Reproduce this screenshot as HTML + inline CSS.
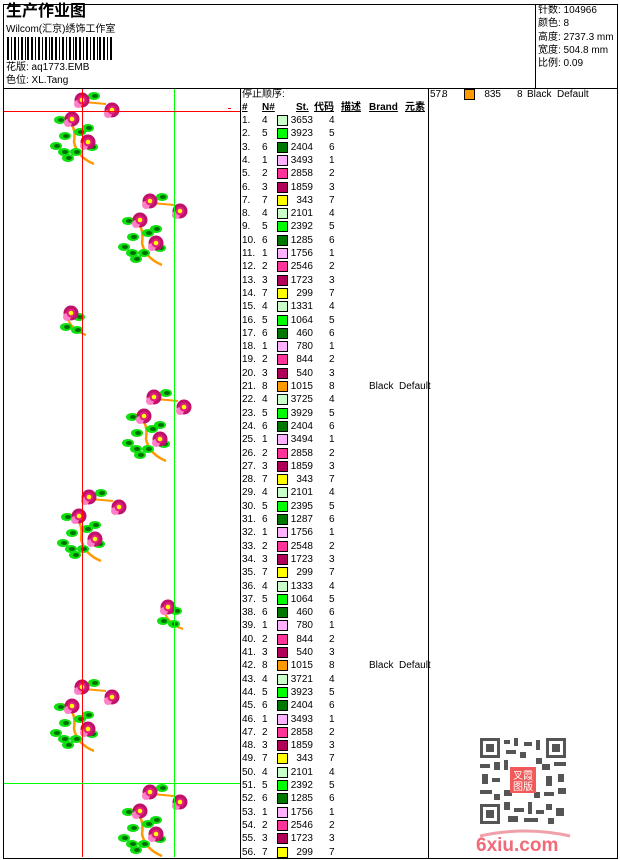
<!DOCTYPE html>
<html><head><meta charset="utf-8"><style>
body{margin:0;width:620px;height:860px;background:#fff;position:relative;overflow:hidden;font-family:"Liberation Sans","Noto Sans CJK SC",sans-serif;color:#000}
.a{position:absolute;white-space:nowrap}
.h{position:absolute;top:101px;font-size:10px;line-height:13px;font-weight:bold;text-decoration:underline;white-space:nowrap}
.r{position:absolute;left:242px;height:13px;font-size:10px;line-height:13px;white-space:nowrap}
.r span{position:absolute}
.r .n{left:0}.r .c{left:20px}.r .s{left:35px;top:1px;width:9px;height:9px;border:1px solid #000}.r .t{left:47px;width:24px;text-align:right}.r .k{left:87px}.r .b{left:127px}
.c1{background:#ffb0ff}.c2{background:#ff3399}.c3{background:#b0005a}.c4{background:#c8ffc8}.c5{background:#00ff00}.c6{background:#007800}.c7{background:#ffff00}.c8{background:#ff9900}
</style></head><body>
<div class="a" style="left:3px;top:4px;width:613px;height:853px;border:1px solid #000"></div>
<div class="a" style="left:3px;top:88px;width:614px;height:1px;background:#000"></div>
<div class="a" style="left:535px;top:4px;width:1px;height:84px;background:#000"></div>
<div class="a" style="left:240px;top:88px;width:1px;height:770px;background:#000"></div>
<div class="a" style="left:428px;top:88px;width:1px;height:770px;background:#000"></div>
<div class="a" style="left:6px;top:2px;font-size:16px;line-height:20px;font-weight:bold">生产作业图</div>
<div class="a" style="left:6px;top:23px;font-size:10px;line-height:13px">Wilcom(汇京)绣饰工作室</div>
<svg class="a" style="left:7px;top:37px" width="105" height="23">
<g fill="#000">
<rect x="0" width="2" height="23"/><rect x="4" width="1" height="23"/><rect x="7" width="2" height="23"/><rect x="11" width="1" height="23"/><rect x="14" width="2" height="23"/><rect x="18" width="1" height="23"/><rect x="20" width="2" height="23"/><rect x="24" width="2" height="23"/><rect x="28" width="1" height="23"/><rect x="31" width="2" height="23"/><rect x="35" width="1" height="23"/><rect x="38" width="2" height="23"/><rect x="42" width="1" height="23"/><rect x="44" width="2" height="23"/><rect x="48" width="2" height="23"/><rect x="52" width="1" height="23"/><rect x="55" width="2" height="23"/><rect x="59" width="1" height="23"/><rect x="62" width="2" height="23"/><rect x="66" width="1" height="23"/><rect x="68" width="2" height="23"/><rect x="72" width="2" height="23"/><rect x="76" width="1" height="23"/><rect x="79" width="2" height="23"/><rect x="83" width="1" height="23"/><rect x="86" width="2" height="23"/><rect x="90" width="1" height="23"/><rect x="92" width="2" height="23"/><rect x="96" width="2" height="23"/><rect x="100" width="1" height="23"/><rect x="103" width="2" height="23"/>
</g></svg>
<div class="a" style="left:6px;top:61px;font-size:10px;line-height:13px">花版: aq1773.EMB</div>
<div class="a" style="left:6px;top:74px;font-size:10px;line-height:13px">色位: XL.Tang</div>
<div class="a" style="left:538px;top:4px;font-size:10px;line-height:13.3px">针数: 104966<br>颜色: 8<br>高度: 2737.3 mm<br>宽度: 504.8 mm<br>比例: 0.09</div>

<svg class="a" style="left:4px;top:89px" width="236" height="768">
<defs>
<g id="fl"><circle r="7.5" fill="#c0106a"/><circle cx="-4" cy="4" r="4" fill="#ff80c8"/><circle r="4.5" fill="#e0207e"/><circle r="2.3" fill="#ffff00"/></g>
<g id="lf"><ellipse rx="6" ry="4" fill="#10e010"/><ellipse rx="3" ry="2" cx="1" fill="#007000"/></g>
<g id="spray">
<path d="M-20 5 Q-5 10 -8 30 Q-5 45 12 52" stroke="#ff9900" stroke-width="2.5" fill="none"/>
<path d="M2 -10 L24 -8" stroke="#ff9900" stroke-width="2"/>
<use href="#lf" x="-22" y="8"/><use href="#lf" x="-26" y="34"/><use href="#lf" x="-14" y="46"/><use href="#lf" x="6" y="16"/><use href="#lf" x="-17" y="24"/><use href="#lf" x="12" y="-16"/><use href="#lf" x="-6" y="40"/><use href="#lf" x="-18" y="40"/><use href="#lf" x="10" y="35"/><use href="#lf" x="-2" y="20"/>
<use href="#fl" x="0" y="-12"/><use href="#fl" x="-10" y="7"/><use href="#fl" x="30" y="-2"/><use href="#fl" x="6" y="30"/>
</g>
<g id="small"><path d="M-5 0 Q0 15 15 20" stroke="#ff9900" stroke-width="2" fill="none"/><use href="#lf" x="6" y="15"/><use href="#lf" x="-5" y="12"/><use href="#lf" x="8" y="2"/><use href="#fl" x="0" y="-2"/></g>
</defs>
<use href="#spray" x="78" y="23"/>
<use href="#spray" x="146" y="124"/>
<use href="#small" x="67" y="226"/>
<use href="#spray" x="150" y="320"/>
<use href="#spray" x="85" y="420"/>
<use href="#small" x="164" y="520"/>
<use href="#spray" x="78" y="610"/>
<use href="#spray" x="146" y="715"/>
<g shape-rendering="crispEdges">
<line x1="78.5" y1="0" x2="78.5" y2="768" stroke="#f00" stroke-width="1"/>
<line x1="170.5" y1="0" x2="170.5" y2="768" stroke="#0f0" stroke-width="1"/>
<line x1="0" y1="22.5" x2="236" y2="22.5" stroke="#f00" stroke-width="1"/>
<line x1="0" y1="694.5" x2="236" y2="694.5" stroke="#0f0" stroke-width="1"/>
<line x1="224" y1="19.5" x2="227" y2="19.5" stroke="#f00"/>
</g>
</svg>

<div class="a" style="left:242px;top:88px;font-size:10px;line-height:13px">停止顺序:</div>
<div class="h" style="left:242px">#</div>
<div class="h" style="left:262px">N#</div>
<div class="h" style="left:296px">St.</div>
<div class="h" style="left:314px">代码</div>
<div class="h" style="left:341px">描述</div>
<div class="h" style="left:369px">Brand</div>
<div class="h" style="left:405px">元素</div>

<div class="r" style="left:430px;top:88px"><span class="n">57.</span><span class="c" style="left:12px">8</span><span class="s c8" style="left:34px"></span><span class="t" style="left:47px">835</span><span class="k">8</span><span style="left:97px">Black&nbsp; Default</span></div>

<div class="r" style="top:114px"><span class="n">1.</span><span class="c">4</span><span class="s c4"></span><span class="t">3653</span><span class="k">4</span></div>
<div class="r" style="top:127.3px"><span class="n">2.</span><span class="c">5</span><span class="s c5"></span><span class="t">3923</span><span class="k">5</span></div>
<div class="r" style="top:140.6px"><span class="n">3.</span><span class="c">6</span><span class="s c6"></span><span class="t">2404</span><span class="k">6</span></div>
<div class="r" style="top:153.9px"><span class="n">4.</span><span class="c">1</span><span class="s c1"></span><span class="t">3493</span><span class="k">1</span></div>
<div class="r" style="top:167.2px"><span class="n">5.</span><span class="c">2</span><span class="s c2"></span><span class="t">2858</span><span class="k">2</span></div>
<div class="r" style="top:180.5px"><span class="n">6.</span><span class="c">3</span><span class="s c3"></span><span class="t">1859</span><span class="k">3</span></div>
<div class="r" style="top:193.8px"><span class="n">7.</span><span class="c">7</span><span class="s c7"></span><span class="t">343</span><span class="k">7</span></div>
<div class="r" style="top:207.1px"><span class="n">8.</span><span class="c">4</span><span class="s c4"></span><span class="t">2101</span><span class="k">4</span></div>
<div class="r" style="top:220.4px"><span class="n">9.</span><span class="c">5</span><span class="s c5"></span><span class="t">2392</span><span class="k">5</span></div>
<div class="r" style="top:233.7px"><span class="n">10.</span><span class="c">6</span><span class="s c6"></span><span class="t">1285</span><span class="k">6</span></div>
<div class="r" style="top:247px"><span class="n">11.</span><span class="c">1</span><span class="s c1"></span><span class="t">1756</span><span class="k">1</span></div>
<div class="r" style="top:260.3px"><span class="n">12.</span><span class="c">2</span><span class="s c2"></span><span class="t">2546</span><span class="k">2</span></div>
<div class="r" style="top:273.6px"><span class="n">13.</span><span class="c">3</span><span class="s c3"></span><span class="t">1723</span><span class="k">3</span></div>
<div class="r" style="top:286.9px"><span class="n">14.</span><span class="c">7</span><span class="s c7"></span><span class="t">299</span><span class="k">7</span></div>
<div class="r" style="top:300.2px"><span class="n">15.</span><span class="c">4</span><span class="s c4"></span><span class="t">1331</span><span class="k">4</span></div>
<div class="r" style="top:313.5px"><span class="n">16.</span><span class="c">5</span><span class="s c5"></span><span class="t">1064</span><span class="k">5</span></div>
<div class="r" style="top:326.8px"><span class="n">17.</span><span class="c">6</span><span class="s c6"></span><span class="t">460</span><span class="k">6</span></div>
<div class="r" style="top:340.1px"><span class="n">18.</span><span class="c">1</span><span class="s c1"></span><span class="t">780</span><span class="k">1</span></div>
<div class="r" style="top:353.4px"><span class="n">19.</span><span class="c">2</span><span class="s c2"></span><span class="t">844</span><span class="k">2</span></div>
<div class="r" style="top:366.7px"><span class="n">20.</span><span class="c">3</span><span class="s c3"></span><span class="t">540</span><span class="k">3</span></div>
<div class="r" style="top:380px"><span class="n">21.</span><span class="c">8</span><span class="s c8"></span><span class="t">1015</span><span class="k">8</span><span class="b">Black&nbsp; Default</span></div>
<div class="r" style="top:393.3px"><span class="n">22.</span><span class="c">4</span><span class="s c4"></span><span class="t">3725</span><span class="k">4</span></div>
<div class="r" style="top:406.6px"><span class="n">23.</span><span class="c">5</span><span class="s c5"></span><span class="t">3929</span><span class="k">5</span></div>
<div class="r" style="top:419.9px"><span class="n">24.</span><span class="c">6</span><span class="s c6"></span><span class="t">2404</span><span class="k">6</span></div>
<div class="r" style="top:433.2px"><span class="n">25.</span><span class="c">1</span><span class="s c1"></span><span class="t">3494</span><span class="k">1</span></div>
<div class="r" style="top:446.5px"><span class="n">26.</span><span class="c">2</span><span class="s c2"></span><span class="t">2858</span><span class="k">2</span></div>
<div class="r" style="top:459.8px"><span class="n">27.</span><span class="c">3</span><span class="s c3"></span><span class="t">1859</span><span class="k">3</span></div>
<div class="r" style="top:473.1px"><span class="n">28.</span><span class="c">7</span><span class="s c7"></span><span class="t">343</span><span class="k">7</span></div>
<div class="r" style="top:486.4px"><span class="n">29.</span><span class="c">4</span><span class="s c4"></span><span class="t">2101</span><span class="k">4</span></div>
<div class="r" style="top:499.7px"><span class="n">30.</span><span class="c">5</span><span class="s c5"></span><span class="t">2395</span><span class="k">5</span></div>
<div class="r" style="top:513px"><span class="n">31.</span><span class="c">6</span><span class="s c6"></span><span class="t">1287</span><span class="k">6</span></div>
<div class="r" style="top:526.3px"><span class="n">32.</span><span class="c">1</span><span class="s c1"></span><span class="t">1756</span><span class="k">1</span></div>
<div class="r" style="top:539.6px"><span class="n">33.</span><span class="c">2</span><span class="s c2"></span><span class="t">2548</span><span class="k">2</span></div>
<div class="r" style="top:552.9px"><span class="n">34.</span><span class="c">3</span><span class="s c3"></span><span class="t">1723</span><span class="k">3</span></div>
<div class="r" style="top:566.2px"><span class="n">35.</span><span class="c">7</span><span class="s c7"></span><span class="t">299</span><span class="k">7</span></div>
<div class="r" style="top:579.5px"><span class="n">36.</span><span class="c">4</span><span class="s c4"></span><span class="t">1333</span><span class="k">4</span></div>
<div class="r" style="top:592.8px"><span class="n">37.</span><span class="c">5</span><span class="s c5"></span><span class="t">1064</span><span class="k">5</span></div>
<div class="r" style="top:606.1px"><span class="n">38.</span><span class="c">6</span><span class="s c6"></span><span class="t">460</span><span class="k">6</span></div>
<div class="r" style="top:619.4px"><span class="n">39.</span><span class="c">1</span><span class="s c1"></span><span class="t">780</span><span class="k">1</span></div>
<div class="r" style="top:632.7px"><span class="n">40.</span><span class="c">2</span><span class="s c2"></span><span class="t">844</span><span class="k">2</span></div>
<div class="r" style="top:646px"><span class="n">41.</span><span class="c">3</span><span class="s c3"></span><span class="t">540</span><span class="k">3</span></div>
<div class="r" style="top:659.3px"><span class="n">42.</span><span class="c">8</span><span class="s c8"></span><span class="t">1015</span><span class="k">8</span><span class="b">Black&nbsp; Default</span></div>
<div class="r" style="top:672.6px"><span class="n">43.</span><span class="c">4</span><span class="s c4"></span><span class="t">3721</span><span class="k">4</span></div>
<div class="r" style="top:685.9px"><span class="n">44.</span><span class="c">5</span><span class="s c5"></span><span class="t">3923</span><span class="k">5</span></div>
<div class="r" style="top:699.2px"><span class="n">45.</span><span class="c">6</span><span class="s c6"></span><span class="t">2404</span><span class="k">6</span></div>
<div class="r" style="top:712.5px"><span class="n">46.</span><span class="c">1</span><span class="s c1"></span><span class="t">3493</span><span class="k">1</span></div>
<div class="r" style="top:725.8px"><span class="n">47.</span><span class="c">2</span><span class="s c2"></span><span class="t">2858</span><span class="k">2</span></div>
<div class="r" style="top:739.1px"><span class="n">48.</span><span class="c">3</span><span class="s c3"></span><span class="t">1859</span><span class="k">3</span></div>
<div class="r" style="top:752.4px"><span class="n">49.</span><span class="c">7</span><span class="s c7"></span><span class="t">343</span><span class="k">7</span></div>
<div class="r" style="top:765.7px"><span class="n">50.</span><span class="c">4</span><span class="s c4"></span><span class="t">2101</span><span class="k">4</span></div>
<div class="r" style="top:779px"><span class="n">51.</span><span class="c">5</span><span class="s c5"></span><span class="t">2392</span><span class="k">5</span></div>
<div class="r" style="top:792.3px"><span class="n">52.</span><span class="c">6</span><span class="s c6"></span><span class="t">1285</span><span class="k">6</span></div>
<div class="r" style="top:805.6px"><span class="n">53.</span><span class="c">1</span><span class="s c1"></span><span class="t">1756</span><span class="k">1</span></div>
<div class="r" style="top:818.9px"><span class="n">54.</span><span class="c">2</span><span class="s c2"></span><span class="t">2546</span><span class="k">2</span></div>
<div class="r" style="top:832.2px"><span class="n">55.</span><span class="c">3</span><span class="s c3"></span><span class="t">1723</span><span class="k">3</span></div>
<div class="r" style="top:845.5px"><span class="n">56.</span><span class="c">7</span><span class="s c7"></span><span class="t">299</span><span class="k">7</span></div>

<svg class="a" style="left:480px;top:738px" width="86" height="86" viewBox="0 0 86 86">
<rect width="86" height="86" fill="#fff"/>
<g fill="#555">
<rect x="0" y="0" width="20" height="20"/><rect x="66" y="0" width="20" height="20"/><rect x="0" y="66" width="20" height="20"/>
</g>
<g fill="#fff"><rect x="3" y="3" width="14" height="14"/><rect x="69" y="3" width="14" height="14"/><rect x="3" y="69" width="14" height="14"/></g>
<g fill="#555"><rect x="6" y="6" width="8" height="8"/><rect x="72" y="6" width="8" height="8"/><rect x="6" y="72" width="8" height="8"/>
<rect x="24" y="2" width="6" height="4"/><rect x="34" y="0" width="4" height="8"/><rect x="44" y="4" width="8" height="4"/><rect x="56" y="2" width="4" height="10"/><rect x="26" y="12" width="10" height="4"/><rect x="40" y="14" width="6" height="6"/>
<rect x="0" y="26" width="10" height="4"/><rect x="14" y="24" width="6" height="8"/><rect x="2" y="36" width="6" height="10"/><rect x="12" y="40" width="8" height="4"/><rect x="0" y="52" width="12" height="4"/><rect x="14" y="56" width="6" height="6"/>
<rect x="62" y="26" width="8" height="6"/><rect x="74" y="24" width="12" height="4"/><rect x="66" y="38" width="6" height="10"/><rect x="78" y="36" width="6" height="8"/><rect x="64" y="54" width="10" height="4"/><rect x="78" y="50" width="8" height="6"/>
<rect x="24" y="64" width="6" height="8"/><rect x="34" y="70" width="10" height="4"/><rect x="48" y="64" width="4" height="12"/><rect x="56" y="72" width="8" height="4"/><rect x="66" y="66" width="6" height="6"/><rect x="76" y="70" width="8" height="8"/><rect x="28" y="78" width="10" height="6"/><rect x="44" y="80" width="14" height="4"/><rect x="68" y="80" width="6" height="6"/>
<rect x="24" y="22" width="4" height="10"/><rect x="56" y="20" width="6" height="6"/><rect x="24" y="52" width="8" height="6"/><rect x="54" y="54" width="6" height="6"/></g>
<rect x="30" y="29" width="26" height="26" fill="#f05a5a"/>
<text x="43" y="41" font-size="10" fill="#fff" text-anchor="middle" font-family="Noto Sans CJK SC,sans-serif">叉霞</text>
<text x="43" y="52" font-size="10" fill="#fff" text-anchor="middle" font-family="Noto Sans CJK SC,sans-serif">图版</text>
</svg>
<svg class="a" style="left:470px;top:826px" width="110" height="30">
<path d="M10 10 Q55 0 100 10" stroke="#f0a0a8" stroke-width="3" fill="none"/>
<text x="6" y="25" font-size="19" font-weight="bold" fill="#f06a78" font-family="Liberation Sans,sans-serif">6xiu.com</text>
</svg>
</body></html>
